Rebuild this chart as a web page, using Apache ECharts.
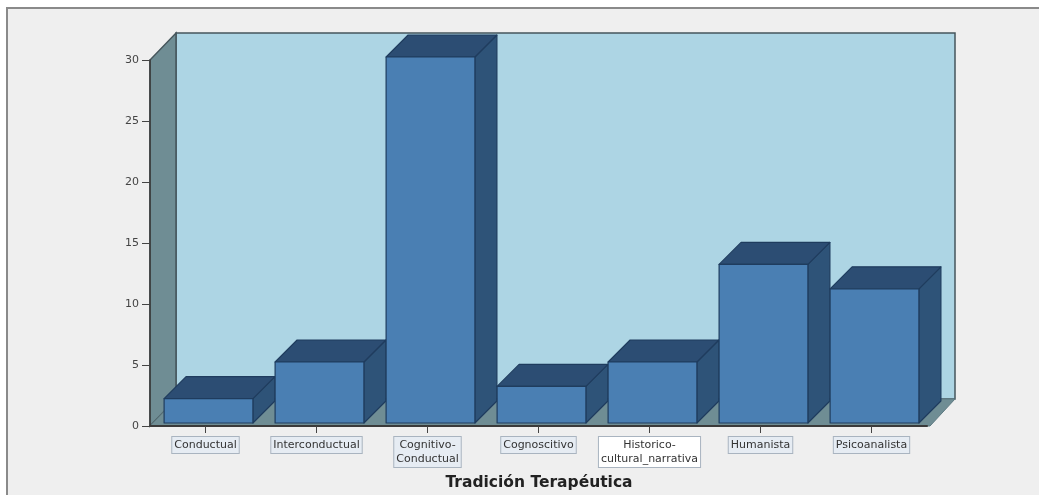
<!DOCTYPE html>
<html>
<head>
<meta charset="utf-8">
<style>html,body{margin:0;padding:0;background:#fff}#c{width:1039px;height:495px}</style>
<script src="https://cdn.jsdelivr.net/npm/echarts@6/dist/echarts.min.js"></script>
</head>
<body>
<div id="c"></div>
<script>
const categories = ['Conductual', 'Interconductual', 'Cognitivo-\nConductual', 'Cognoscitivo', 'Historico-\ncultural_narrativa', 'Humanista', 'Psicoanalista'];
const frequencies = [2, 5, 30, 3, 5, 13, 11];
const yTicks = { min: 0, max: 30, interval: 5 };
const axisTitle = 'Tradición Terapéutica';

const chart = echarts.init(document.getElementById('c'), null, { renderer: 'canvas' });
const wallDepth = [26, -27], barDepth = [22, -22], barShift = [3, -3];
const line = '#1f3c5e';

function renderWalls(params, api) {
  const c = params.coordSys;
  const L = c.x, R = c.x + c.width + 3, T = c.y, B = c.y + c.height;
  const dx = wallDepth[0], dy = wallDepth[1];
  const wall = { stroke: '#46565c', lineWidth: 1.5 };
  return { type: 'group', children: [
    { type: 'polygon', shape: { points: [[L + dx, T + dy], [R + dx - 1, T + dy], [R + dx - 1, B + dy], [L + dx, B + dy]] },
      style: Object.assign({ fill: '#add5e4' }, wall) },
    { type: 'polygon', shape: { points: [[L, B], [L + dx, B + dy], [L + dx, T + dy], [L, T]] },
      style: Object.assign({ fill: '#6f8d94' }, wall) },
    { type: 'polygon', shape: { points: [[L, B], [R, B], [R + dx - 1, B + dy], [L + dx, B + dy]] },
      style: { fill: '#6f8d94', stroke: '#5d7a82', lineWidth: 1 } }
  ] };
}

function renderBar(params, api) {
  const base = api.coord([api.value(0), 0]);
  const top = api.coord([api.value(0), api.value(1)]);
  const w = api.size([1, 0])[0] * 0.8;
  const x0 = base[0] - w / 2 + barShift[0], x1 = x0 + w;
  const yB = base[1] + barShift[1], yT = top[1] + barShift[1];
  const dx = barDepth[0], dy = barDepth[1];
  const s = { stroke: line, lineWidth: 1.2, lineJoin: 'round' };
  return { type: 'group', children: [
    { type: 'polygon', shape: { points: [[x1, yB], [x1 + dx, yB + dy], [x1 + dx, yT + dy], [x1, yT]] },
      style: Object.assign({ fill: '#2e5378' }, s) },
    { type: 'polygon', shape: { points: [[x0, yT], [x0 + dx, yT + dy], [x1 + dx, yT + dy], [x1, yT]] },
      style: Object.assign({ fill: '#2c4d73' }, s) },
    { type: 'rect', shape: { x: x0, y: yT, width: w, height: yB - yT },
      style: Object.assign({ fill: '#4a7fb3' }, s) }
  ] };
}

chart.setOption({
  animation: false,
  backgroundColor: '#ffffff',
  graphic: [
    { type: 'rect', z: -10, silent: true, shape: { x: 7, y: 8, width: 1040, height: 500 },
      style: { fill: '#efefef', stroke: '#8a8a8a', lineWidth: 2 } }
  ],
  title: {
    text: axisTitle, left: 534, top: 470, textAlign: 'center',
    textStyle: { fontFamily: 'DejaVu Sans', fontSize: 15.5, fontWeight: 'bold', color: '#222' }
  },
  grid: { left: 150, right: 112, top: 60, bottom: 69, containLabel: false },
  xAxis: {
    type: 'category',
    data: categories.map((c) => ({
      value: c,
      textStyle: { backgroundColor: c.indexOf('Historico') === 0 ? '#ffffff' : '#e6ecf3' }
    })),
    z: 5,
    axisLine: { show: true, lineStyle: { color: '#3a3a3a', width: 2 } },
    axisTick: { show: true, alignWithLabel: true, length: 7, lineStyle: { color: '#444', width: 1 } },
    axisLabel: {
      interval: 0, margin: 11, hideOverlap: false,
      fontFamily: 'DejaVu Sans', fontSize: 11, lineHeight: 14, color: '#333',
      borderColor: '#a9b4c0', borderWidth: 1, padding: [1, 2, 1, 2], align: 'center'
    }
  },
  yAxis: {
    type: 'value', min: yTicks.min, max: yTicks.max, interval: yTicks.interval,
    z: 5,
    splitLine: { show: false },
    axisLine: { show: true, lineStyle: { color: '#3a3a3a', width: 1.5 } },
    axisTick: { show: true, length: 8, lineStyle: { color: '#444', width: 1 } },
    axisLabel: { margin: 11, fontFamily: 'DejaVu Sans', fontSize: 11, color: '#444' }
  },
  series: [
    { type: 'custom', renderItem: renderWalls, data: [[0, 0]], z: 1, silent: true, clip: false },
    { type: 'custom', renderItem: renderBar, clip: false, z: 2, silent: true,
      encode: { x: 0, y: 1 },
      data: frequencies.map((v, i) => [i, v]) }
  ]
});
</script>
</body>
</html>
